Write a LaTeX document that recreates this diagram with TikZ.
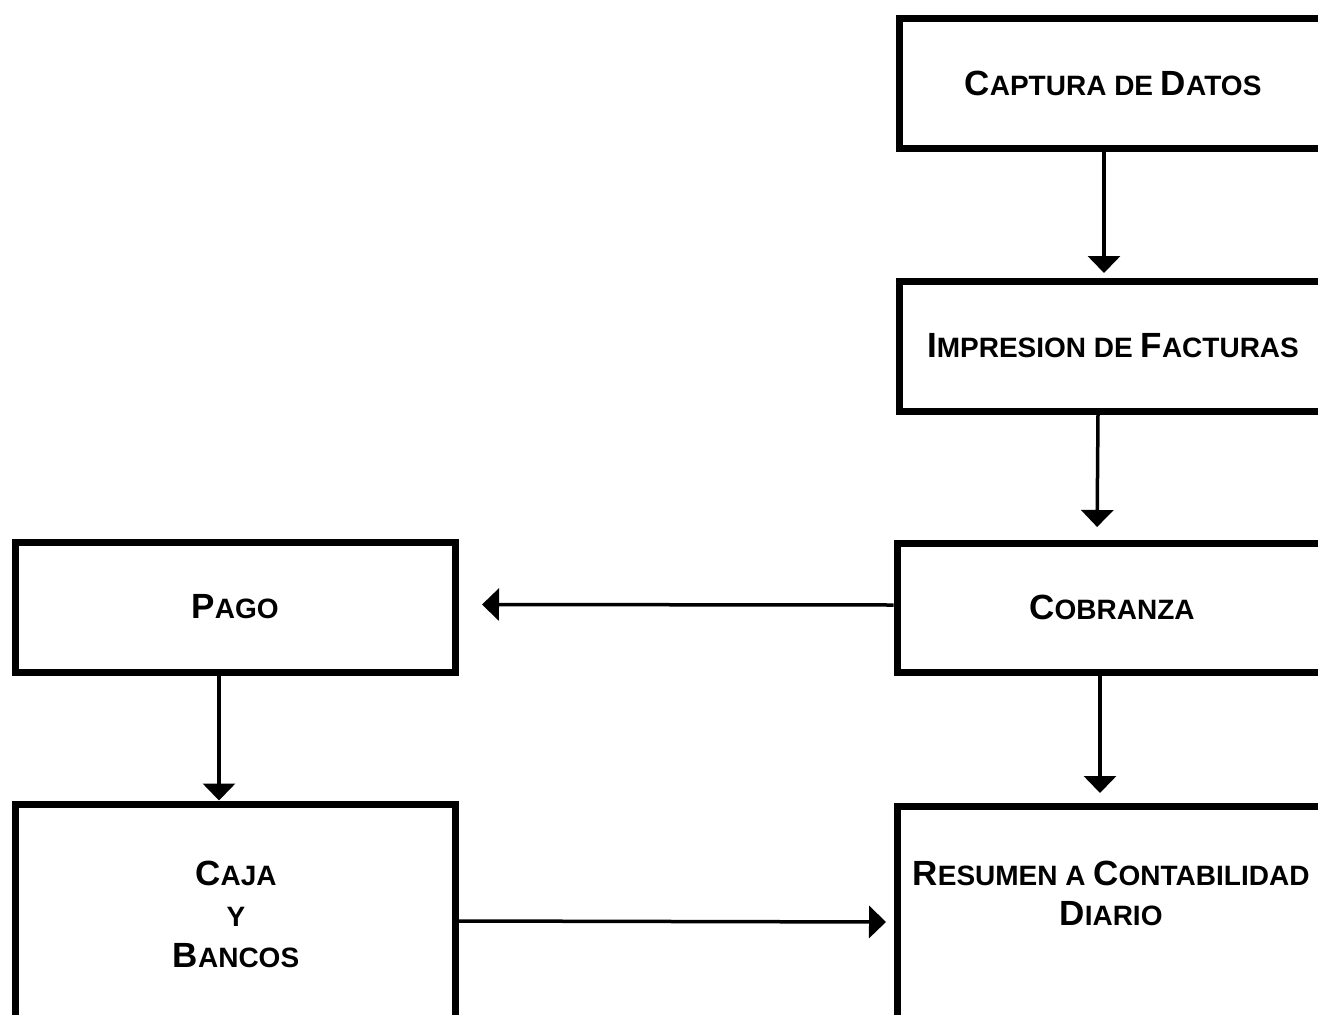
\documentclass[tikz,border=0pt]{standalone}
\usepackage{fontspec}
\setmainfont{Liberation Sans}
\usetikzlibrary{arrows.meta}
\newcommand\BigL[1]{{\fontsize{35}{41}\selectfont #1}}
\newcommand\SmL[1]{{\fontsize{28}{41}\selectfont #1}}
\begin{document}
\begin{tikzpicture}[x=1pt,y=-1pt,
  box/.style={draw, line width=7pt, rectangle, inner sep=0pt, font=\bfseries},
  lbl/.style={align=center, inner sep=0pt, font=\bfseries\fontsize{35}{41}\selectfont},
  arr/.style={line width=3.5pt, -{Triangle[length=17pt,width=32pt]}}]
\useasboundingbox[fill=white] (0,0) rectangle (1318,1015);

\node[box, minimum width=428pt, minimum height=130pt] (cap) at (1113,83)
  {\BigL{C}\SmL{APTURA DE }\BigL{D}\SmL{ATOS}};
\node[box, minimum width=428pt, minimum height=130pt] (imp) at (1113,346)
  {\BigL{I}\SmL{MPRESION DE }\BigL{F}\SmL{ACTURAS}};
\node[box, minimum width=430pt, minimum height=129pt] (cob) at (1112,607.5)
  {\BigL{C}\SmL{OBRANZA}};
\node[box, minimum width=440pt, minimum height=130pt] (pago) at (235,607)
  {\BigL{P}\SmL{AGO}};
\node[box, minimum width=440pt, minimum height=241pt] (caja) at (235,924.5) {};
\node[box, minimum width=430pt, minimum height=239pt] (res) at (1112,925.5) {};

\node[lbl] (cajat) at (236,914)
  {\BigL{C}\SmL{AJA}\\\SmL{Y}\\\BigL{B}\SmL{ANCOS}};
\node[lbl, font=\bfseries\fontsize{35}{40}\selectfont] (rest) at (1111,893)
  {\BigL{R}\SmL{ESUMEN A }\BigL{C}\SmL{ONTABILIDAD}\\\BigL{D}\SmL{IARIO}};

\draw[arr, shorten >=4.5pt] ([xshift=-9pt]cap.south) -- ([xshift=-9pt]imp.north);
\draw[arr, shorten >=12.5pt] ([xshift=-15pt]imp.south) -- ([xshift=-15pt]cob.north);
\draw[arr, shorten >=9.5pt] ([xshift=-12pt]cob.south) -- ([xshift=-12pt]res.north);
\draw[arr, shorten >=23.5pt] ([yshift=2.5pt]cob.west) -- ([yshift=2.5pt]pago.east);
\draw[arr] ([xshift=-16pt]pago.south) -- ([xshift=-16pt]caja.north);
\draw[arr, shorten >=7.5pt] ([yshift=3.5pt]caja.east) -- ([yshift=3.5pt]res.west);
\end{tikzpicture}
\end{document}
